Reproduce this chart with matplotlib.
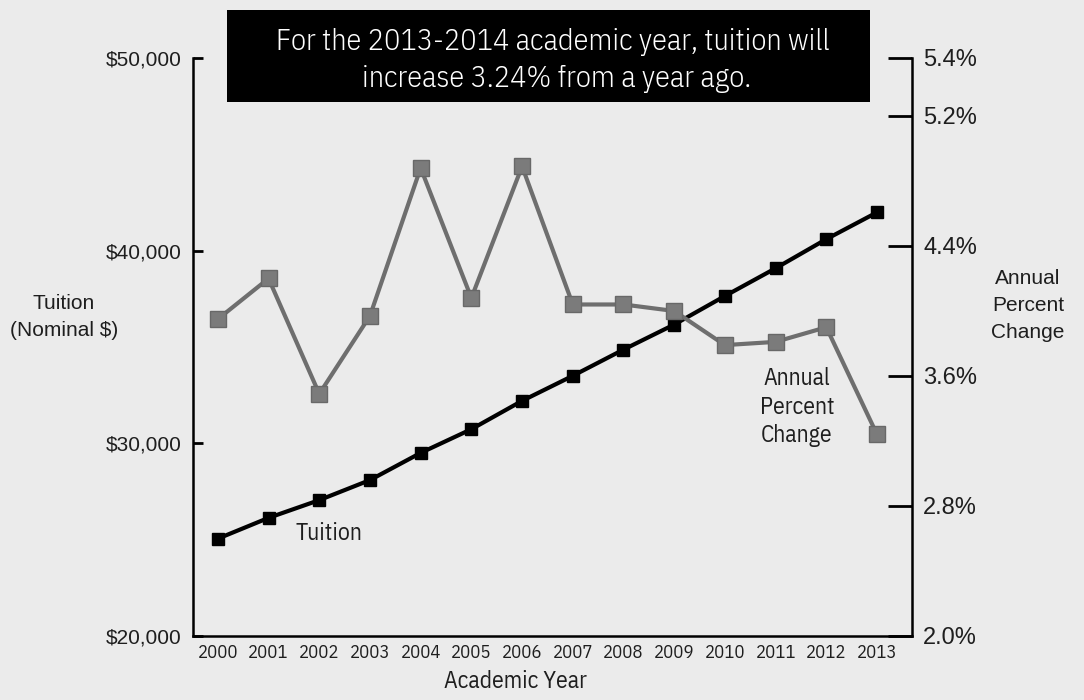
import matplotlib.pyplot as plt
from matplotlib.patches import Rectangle

# data
years = [2000, 2001, 2002, 2003, 2004, 2005, 2006, 2007, 2008, 2009, 2010, 2011, 2012, 2013]
tuition = [25050, 26130, 27050, 28090, 29500, 30730, 32200, 33500, 34860, 36160, 37640, 39080, 40590, 41980]
pct_change = [3.95, 4.20, 3.49, 3.97, 4.88, 4.08, 4.89, 4.04, 4.04, 4.00, 3.79, 3.81, 3.90, 3.24]

dollar_ticks = [20000, 30000, 40000, 50000]
dollar_labels = ['$20,000', '$30,000', '$40,000', '$50,000']
pct_ticks = [2.0, 2.8, 3.6, 4.4, 5.2, 5.558]
pct_labels = ['2.0%', '2.8%', '3.6%', '4.4%', '5.2%', '5.4%']

title_lines = ['For the 2013-2014 academic year, tuition will',
               'increase 3.24% from a year ago.']

bg = '#ebebeb'
txt = '#1e1e1e'
narrow = dict(family=['IBM Plex Sans Condensed', 'Open Sans'], fontstretch='condensed', fontweight=400)
narrow_light = dict(narrow, fontweight=300)
plain = dict(family=['Liberation Sans', 'DejaVu Sans'])

fig = plt.figure(figsize=(10.84, 7), dpi=100, facecolor=bg)
ax = fig.add_axes([193 / 1084, 1 - 636 / 700, (912 - 193) / 1084, (636 - 57.8) / 700])
ax.set_facecolor(bg)
ax2 = ax.twinx()

# tuition line (left axis)
ax.plot(years, tuition, color='black', lw=3, marker='s', ms=9, zorder=3)
# annual percent change (right axis)
ax2.plot(years, pct_change, color='#6e6e6e', lw=3, marker='s', ms=11,
         mfc='#7b7b7b', mec='#686868', mew=1)

ax.set_xlim(1999.51, 2013.69)
ax.set_ylim(20000, 50000)
ax2.set_ylim(2.0, 5.558)

ax.set_xticks(years)
ax.set_xticklabels([str(y) for y in years], fontsize=13.5, color=txt, **narrow)
ax.set_yticks(dollar_ticks)
ax.set_yticklabels(dollar_labels, fontsize=15, color=txt, **plain)
ax2.set_yticks(pct_ticks)
ax2.set_yticklabels(pct_labels, fontsize=17, color=txt, **plain)

ax.tick_params(axis='x', length=0, pad=6)
ax.tick_params(axis='y', direction='in', length=7, width=2, pad=8)
ax2.tick_params(axis='y', direction='in', length=17, width=2, pad=8)

for s in ['top', 'right']:
    ax.spines[s].set_visible(False)
for s in ['top', 'left', 'bottom']:
    ax2.spines[s].set_visible(False)
ax.spines['left'].set_linewidth(1.8)
ax.spines['bottom'].set_linewidth(1.8)
ax2.spines['right'].set_linewidth(1.8)

# series labels inside the plot
ax.text(2002.2, 25300, 'Tuition', fontsize=17, color=txt,
        ha='center', va='center', **narrow)
ax2.text(2011.42, 3.409, 'Annual\nPercent\nChange', fontsize=17,
         color=txt, ha='center', va='center', linespacing=1.32, **narrow)

# axis titles
fig.text(64 / 1084, 1 - 317 / 700, 'Tuition\n(Nominal $)', fontsize=15,
         color=txt, ha='center', va='center', linespacing=1.5, **plain)
fig.text(1028 / 1084, 1 - 305.5 / 700, 'Annual\nPercent\nChange', fontsize=15,
         color=txt, ha='center', va='center', linespacing=1.55, **plain)
fig.text(515 / 1084, 1 - 682 / 700, 'Academic Year', fontsize=17,
         color=txt, ha='center', va='center', **narrow)

# black headline box
fig.add_artist(Rectangle((227 / 1084, 1 - 102 / 700), (870 - 227) / 1084, 92.5 / 700,
                         transform=fig.transFigure, facecolor='black', edgecolor='none'))
fig.text(553 / 1084, 1 - 50 / 700, title_lines[0], fontsize=21.8, color='white',
         ha='center', va='baseline', **narrow_light)
fig.text(557 / 1084, 1 - 86.7 / 700, title_lines[1], fontsize=21.8, color='white',
         ha='center', va='baseline', **narrow_light)

fig.savefig('out.png', dpi=100, facecolor=bg)
